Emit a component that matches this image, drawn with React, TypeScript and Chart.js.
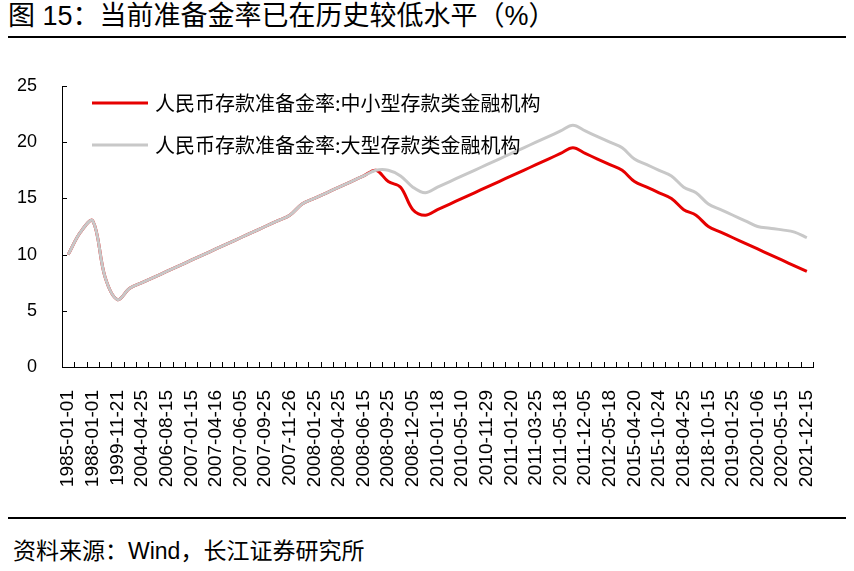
import React, { useEffect, useRef } from "react";
import { Chart, registerables } from "chart.js";

Chart.register(...registerables);

const dates: string[] = [
  "1985-01-01", "1987-01-01", "1988-01-01", "1998-03-21", "1999-11-21",
  "2003-09-21", "2004-04-25", "2006-07-05", "2006-08-15", "2006-11-15",
  "2007-01-15", "2007-02-25", "2007-04-16", "2007-05-15", "2007-06-05",
  "2007-08-15", "2007-09-25", "2007-10-25", "2007-11-26", "2007-12-25",
  "2008-01-25", "2008-03-25", "2008-04-25", "2008-05-20", "2008-06-15",
  "2008-06-25", "2008-09-25", "2008-10-15", "2008-12-05", "2008-12-25",
  "2010-01-18", "2010-02-25", "2010-05-10", "2010-11-16", "2010-11-29",
  "2010-12-20", "2011-01-20", "2011-02-24", "2011-03-25", "2011-04-21",
  "2011-05-18", "2011-06-20", "2011-12-05", "2012-02-24", "2012-05-18",
  "2015-02-05", "2015-04-20", "2015-09-06", "2015-10-24", "2016-03-01",
  "2018-04-25", "2018-07-05", "2018-10-15", "2019-01-15", "2019-01-25",
  "2019-09-16", "2020-01-06", "2020-04-15", "2020-05-15", "2021-07-15",
  "2021-12-15",
];

const smallMediumRate: number[] = [
  10, 12, 13, 8, 6, 7, 7.5, 8, 8.5, 9,
  9.5, 10, 10.5, 11, 11.5, 12, 12.5, 13, 13.5, 14.5,
  15, 15.5, 16, 16.5, 17, 17.5, 16.5, 16, 14, 13.5,
  14, 14.5, 15, 15.5, 16, 16.5, 17, 17.5, 18, 18.5,
  19, 19.5, 19, 18.5, 18, 17.5, 16.5, 16, 15.5, 15,
  14, 13.5, 12.5, 12, 11.5, 11, 10.5, 10, 9.5, 9,
  8.5,
];

const largeRate: number[] = [
  10, 12, 13, 8, 6, 7, 7.5, 8, 8.5, 9,
  9.5, 10, 10.5, 11, 11.5, 12, 12.5, 13, 13.5, 14.5,
  15, 15.5, 16, 16.5, 17, 17.5, 17.5, 17, 16, 15.5,
  16, 16.5, 17, 17.5, 18, 18.5, 19, 19.5, 20, 20.5,
  21, 21.5, 21, 20.5, 20, 19.5, 18.5, 18, 17.5, 17,
  16, 15.5, 14.5, 14, 13.5, 13, 12.5, 12.35, 12.2, 12,
  11.5,
];

const seriesNames: string[] = [
  "人民币存款准备金率:中小型存款类金融机构",
  "人民币存款准备金率:大型存款类金融机构",
];

const seriesColors: string[] = ["#E60000", "#C8C8C8"];

const yMin = 0;
const yMax = 25;
const yStep = 5;

const TITLE = "图 15：当前准备金率已在历史较低水平（%）";
const SOURCE = "资料来源：Wind，长江证券研究所";

const CJK = '"Liberation Sans", Arial, "Noto Sans CJK SC", sans-serif';

const innerTicksPlugin = {
  id: "innerTicks",
  afterDraw(chart: any) {
    const { ctx, chartArea } = chart;
    const y = chart.scales.y;
    ctx.save();
    ctx.strokeStyle = "#000";
    ctx.lineWidth = 1;
    ctx.beginPath();
    y.ticks.forEach((t: any) => {
      const py = Math.round(y.getPixelForValue(t.value)) + 0.5;
      ctx.moveTo(chartArea.left, py);
      ctx.lineTo(chartArea.left + 5, py);
    });
    const n = chart.data.labels.length;
    const w = (chartArea.right - chartArea.left) / n;
    for (let i = 0; i <= n; i++) {
      const px = Math.round(chartArea.left + i * w) + 0.5;
      ctx.moveTo(px, chartArea.bottom);
      ctx.lineTo(px, chartArea.bottom - 5);
    }
    ctx.stroke();
    ctx.restore();
  },
};

const legendPlugin = {
  id: "innerLegend",
  afterDraw(chart: any) {
    const { ctx } = chart;
    ctx.save();
    chart.data.datasets.forEach((ds: any, i: number) => {
      const yy = 63 + i * 42;
      ctx.strokeStyle = ds.borderColor;
      ctx.lineWidth = 3;
      ctx.beginPath();
      ctx.moveTo(92, yy);
      ctx.lineTo(148, yy);
      ctx.stroke();
      ctx.fillStyle = "#000";
      ctx.font = '20px "Noto Sans CJK SC", sans-serif';
      ctx.textBaseline = "middle";
      ctx.textAlign = "left";
      ctx.fillText(ds.label, 155, yy);
    });
    ctx.restore();
  },
};

function RateChart() {
  const ref = useRef<HTMLCanvasElement | null>(null);
  useEffect(() => {
    if (!ref.current) return;
    const chart = new Chart(ref.current, {
      type: "line",
      data: {
        labels: dates,
        datasets: [
          {
            label: seriesNames[0],
            data: smallMediumRate,
            borderColor: seriesColors[0],
            backgroundColor: seriesColors[0],
            borderWidth: 3,
            pointRadius: 0,
            tension: 0.35,
            order: 1,
          },
          {
            label: seriesNames[1],
            data: largeRate,
            borderColor: seriesColors[1],
            backgroundColor: seriesColors[1],
            borderWidth: 3,
            pointRadius: 0,
            tension: 0.35,
            order: 0,
          },
        ],
      },
      options: {
        responsive: false,
        animation: false,
        layout: { padding: { top: 46, right: 41, bottom: 0, left: 0 } },
        plugins: {
          legend: { display: false },
          tooltip: { enabled: false },
          title: { display: false },
        },
        scales: {
          x: {
            type: "category",
            offset: true,
            grid: { display: false },
            border: { display: true, color: "#000", width: 1 },
            afterFit: (s: any) => {
              s.height = 133;
            },
            ticks: {
              autoSkip: false,
              minRotation: 90,
              maxRotation: 90,
              padding: 15,
              color: "#000",
              font: { family: CJK, size: 19 },
              callback: (_v: any, idx: number) => (idx % 2 === 0 ? dates[idx] : ""),
            },
          },
          y: {
            min: yMin,
            max: yMax,
            grid: { display: false },
            border: { display: true, color: "#000", width: 1 },
            afterFit: (s: any) => {
              s.width = 62;
            },
            ticks: {
              stepSize: yStep,
              padding: 17,
              color: "#000",
              font: { family: CJK, size: 18 },
            },
          },
        },
      },
      plugins: [innerTicksPlugin, legendPlugin],
    });
    return () => chart.destroy();
  }, []);
  return (
    <canvas
      ref={ref}
      width={854}
      height={460}
      style={{ position: "absolute", left: 0, top: 40, width: 854, height: 460 }}
    />
  );
}

export default function App() {
  return (
    <div
      style={{
        position: "fixed",
        left: 0,
        top: 0,
        width: 854,
        height: 571,
        background: "#fff",
        overflow: "hidden",
      }}
    >
      <div
        style={{
          position: "absolute",
          left: 8,
          top: -1,
          height: 34,
          lineHeight: "34px",
          fontSize: 27,
          fontFamily: CJK,
          color: "#000",
          whiteSpace: "nowrap",
        }}
      >
        {TITLE}
      </div>
      <div style={{ position: "absolute", left: 8, top: 36, width: 838, height: 2, background: "#000" }} />
      <RateChart />
      <div style={{ position: "absolute", left: 8, top: 517, width: 838, height: 2, background: "#000" }} />
      <div
        style={{
          position: "absolute",
          left: 13,
          top: 536,
          height: 30,
          lineHeight: "30px",
          fontSize: 23,
          fontFamily: CJK,
          color: "#000",
          whiteSpace: "nowrap",
        }}
      >
        {SOURCE}
      </div>
    </div>
  );
}
